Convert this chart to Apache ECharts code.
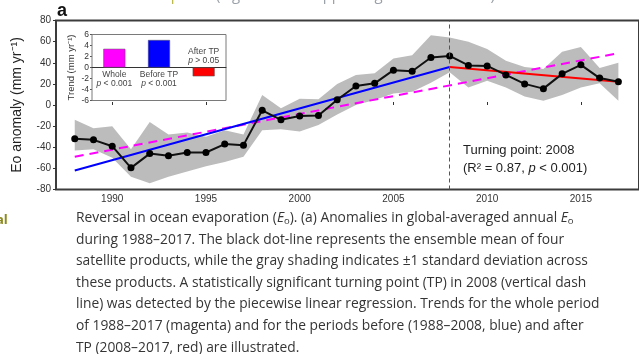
<!DOCTYPE html>
<html><head><meta charset="utf-8">
<script src="https://cdn.jsdelivr.net/npm/echarts@6/dist/echarts.min.js"></script>
<style>html,body{margin:0;padding:0;background:#fff;overflow:hidden}#c{width:639px;height:354px}</style>
</head><body><div id="c"></div>
<script>
const years = [1988,1989,1990,1991,1992,1993,1994,1995,1996,1997,1998,1999,2000,2001,2002,2003,2004,2005,2006,2007,2008,2009,2010,2011,2012,2013,2014,2015,2016,2017];
const meanEo = [-32,-33,-39,-59.5,-46,-48,-45,-45,-37,-38,-5,-14,-10.5,-10,5,18,20.5,33,32,45,46.5,37.5,37,28.5,20,15.5,29.5,38,25.5,22];
const bandUpper = [-14,-22,-20,-42,-16,-28,-26,-30,-24,-28,9.5,-3,6,5.5,20,28.5,30,44,47,66,64,60,53,42,36,34,50.5,55,35,40];
const bandLower = [-43,-42,-50,-68,-74,-68,-63,-58,-54,-49,-24,-23,-25,-19,-9,0,4.7,11,12.5,21,31,16.5,23,16.5,8,4,9.5,16.5,20.5,4];
const wholeYears = [1988,2017], wholeVals = [-49,49];
const beforeYears = [1988,2008], beforeVals = [-62,36];
const afterYears = [2008,2017], afterVals = [36,22];
const turningYear = 2008;
const xTicks = [1990,1995,2000,2005,2010,2015];
const trendCats = ['Whole','Before TP','After TP'];
const trendVals = [3.4,5.0,-1.6];
const trendP = ['< 0.001','< 0.001','> 0.05'];
const trendColors = ['#ff00ff','#0000ff','#ff0000'];

const pair = (xs, ys) => xs.map((x,i)=>[x,ys[i]]);
const chart = echarts.init(document.getElementById('c'));
const F = '"Liberation Sans", Arial, sans-serif';
const C = '"Open Sans", sans-serif';
const CAP = 13.8;
const capStyle = {fill:'#353535', font:CAP + 'px ' + C};
const capLines = [
  'during 1988–2017. The black dot-line represents the ensemble mean of four',
  'satellite products, while the gray shading indicates ±1 standard deviation across',
  'these products. A statistically significant turning point (TP) in 2008 (vertical dash',
  'line) was detected by the piecewise linear regression. Trends for the whole period',
  'of 1988–2017 (magenta) and for the periods before (1988–2008, blue) and after',
  'TP (2008–2017, red) are illustrated.'
];
const capTop = 211, capStep = 21.6;
const graphics = [
  {type:'text', left:14, top:-12, style:{text:'{y|in the Southern Hemisphere} (Figure S3 in Supporting Information S1).', fill:'#9aa0a8', font:'15px ' + C,
     rich:{y:{fill:'#b9b84a', fontSize:15, fontFamily:C}}}},
  {type:'text', left:-4, top:214, style:{text:'al', fill:'#8c8a1e', font:'bold 13px ' + C}},
  {type:'text', left:57, top:2, style:{text:'a', fill:'#111', font:'bold 18px ' + F}},
  {type:'text', left:463, top:144, style:{text:'Turning point: 2008', fill:'#222', font:'13px ' + F}},
  {type:'text', left:463, top:162, style:{text:'(R² = 0.87, {i|p} < 0.001)', fill:'#222', font:'13px ' + F,
     rich:{i:{fontStyle:'italic', fontSize:13, fontFamily:F, fill:'#222'}}}},
  {type:'text', left:76, top:capTop, style:{text:'Reversal in ocean evaporation ({i|E}{s|o}). (a) Anomalies in global-averaged annual {i|E}{s|o}',
     fill:'#353535', font:CAP + 'px ' + C,
     rich:{i:{fontStyle:'italic', fontSize:CAP, fontFamily:C, fill:'#353535'}, s:{fontSize:9.5, fontFamily:C, fill:'#353535', padding:[7,0,0,0]}}}}
];
capLines.forEach((t,i)=>graphics.push({type:'text', left:76, top:capTop + (i+1)*capStep, style:Object.assign({text:t}, capStyle)}));

chart.setOption({
  animation:false,
  backgroundColor:'#fff',
  grid:[
    {left:56, top:20.5, width:586, height:169, show:true, borderColor:'#3c3c3c', borderWidth:2, backgroundColor:'transparent'},
    {left:92, top:34.5, width:134, height:66, show:true, borderColor:'#7a7a7a', borderWidth:1, backgroundColor:'#fff', z:5}
  ],
  xAxis:[
    {type:'value', gridIndex:0, min:1987, max:2018.1, axisLine:{show:false}, splitLine:{show:false},
     axisTick:{show:true, inside:true, length:3, customValues:xTicks, lineStyle:{color:'#333'}},
     axisLabel:{customValues:xTicks, formatter:v=>String(v), fontSize:10, color:'#333', fontFamily:F, margin:5}},
    {type:'category', gridIndex:1, data:trendCats, axisLine:{onZero:true, lineStyle:{color:'#333', width:1}},
     axisTick:{show:false}, axisLabel:{show:false}, z:6}
  ],
  yAxis:[
    {type:'value', gridIndex:0, min:-80, max:80, interval:20, axisLine:{show:false}, splitLine:{show:false},
     axisTick:{show:true, length:3, lineStyle:{color:'#333'}},
     axisLabel:{fontSize:10, color:'#333', fontFamily:F, margin:5},
     name:'Eo anomaly (mm yr⁻¹)', nameLocation:'middle', nameGap:32, nameRotate:90,
     nameTextStyle:{fontSize:14, color:'#222', fontFamily:F}},
    {type:'value', gridIndex:1, min:-6, max:6, interval:2, axisLine:{show:false}, splitLine:{show:false},
     axisTick:{show:true, length:2, lineStyle:{color:'#555'}},
     axisLabel:{fontSize:8.5, color:'#333', fontFamily:F, margin:3},
     name:'Trend (mm yr⁻¹)', nameLocation:'middle', nameGap:16, nameRotate:90,
     nameTextStyle:{fontSize:9.5, color:'#333', fontFamily:F}}
  ],
  series:[
    {type:'custom', xAxisIndex:0, yAxisIndex:0, silent:true, z:1,
     data:years.map((y,i)=>[y, bandLower[i], bandUpper[i]]),
     encode:{x:0, y:[1,2]},
     renderItem:(params, api)=>{
       if (params.dataIndex !== 0) return null;
       const up = years.map((y,i)=>api.coord([y, bandUpper[i]]));
       const lo = years.map((y,i)=>api.coord([y, bandLower[i]])).reverse();
       return {type:'polygon', shape:{points:up.concat(lo)}, style:{fill:'#bcbcbc', stroke:'none'}};
     }},
    {type:'line', xAxisIndex:0, yAxisIndex:0, data:pair(wholeYears,wholeVals), symbol:'none',
     lineStyle:{color:'#ff00ff', width:2, type:[9,6]}, z:3},
    {type:'line', xAxisIndex:0, yAxisIndex:0, data:pair(beforeYears,beforeVals), symbol:'none',
     lineStyle:{color:'#0000ff', width:2}, z:3},
    {type:'line', xAxisIndex:0, yAxisIndex:0, data:pair(afterYears,afterVals), symbol:'none',
     lineStyle:{color:'#ff0000', width:2}, z:3},
    {type:'line', xAxisIndex:0, yAxisIndex:0, data:pair(years,meanEo), symbol:'circle', symbolSize:7,
     itemStyle:{color:'#000'}, lineStyle:{color:'#111', width:2}, z:4,
     markLine:{silent:true, symbol:'none', label:{show:false}, lineStyle:{color:'#555', type:[4,3], width:1},
       data:[{xAxis:turningYear}]}},
    {type:'bar', xAxisIndex:1, yAxisIndex:1, barWidth:22, z:7,
     data:trendVals.map((v,i)=>({value:v, itemStyle:{color:trendColors[i], borderColor:'#555', borderWidth:0.5},
       label:{show:true, position: v>=0 ? 'bottom' : 'top', distance:2,
         formatter: trendCats[i] + '\n{i|p} ' + trendP[i], color:'#444', fontSize:8.5, lineHeight:9.5, fontFamily:F,
         rich:{i:{fontStyle:'italic', fontSize:8.5, fontFamily:F, color:'#444'}}}}))}
  ],
  graphic:graphics
});
</script></body></html>
